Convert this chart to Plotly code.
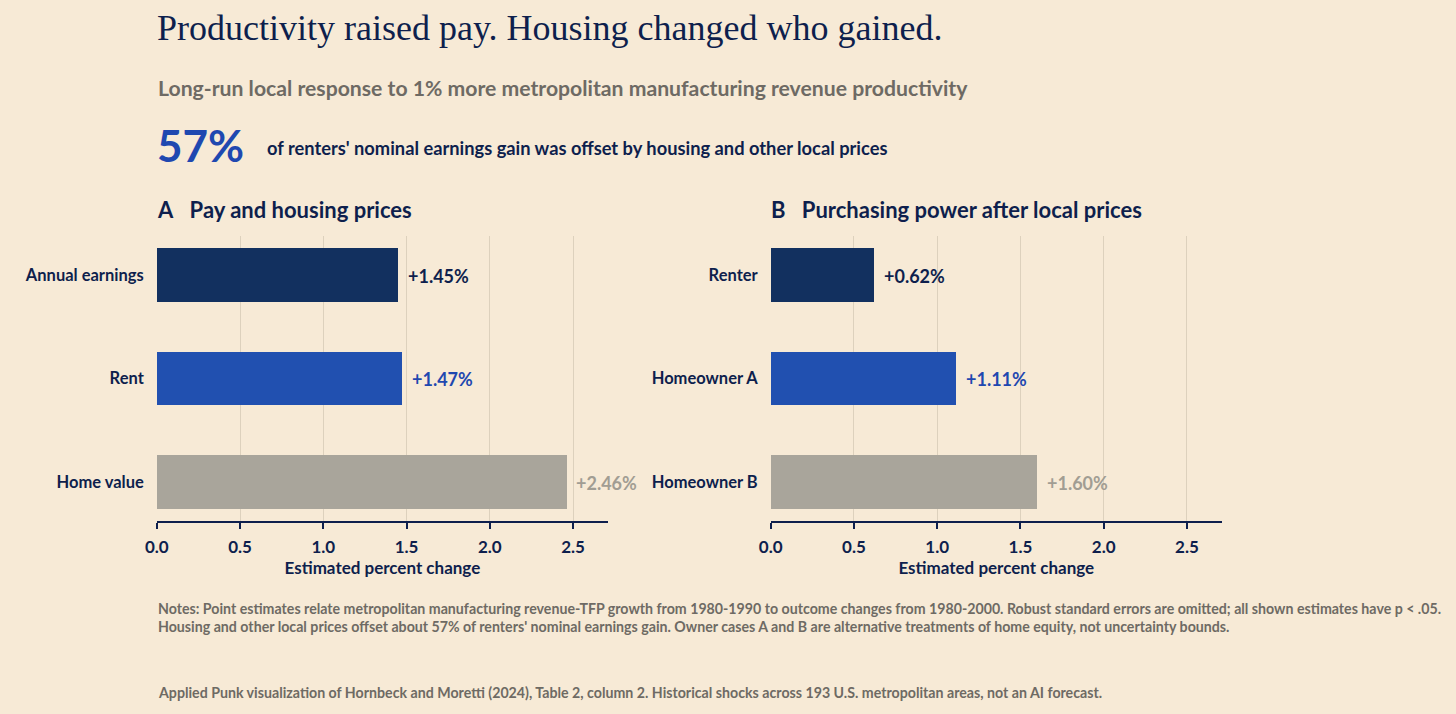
import plotly.graph_objects as go

# ---- data ----
pay_categories = ["Annual earnings", "Rent", "Home value"]
pay_values = [1.45, 1.47, 2.46]
power_categories = ["Renter", "Homeowner A", "Homeowner B"]
power_values = [0.62, 1.11, 1.60]
x_ticks = [0.0, 0.5, 1.0, 1.5, 2.0, 2.5]
headline_share = "57%"

# ---- style ----
BG = "#f7ead6"
NAVY = "#0e1f4d"
BAR_COLORS = ["#12305f", "#2150b0", "#a9a59b"]
LABEL_COLORS = ["#0e1f4d", "#1f48b0", "#a19d93"]
GRID = "#ddd1bd"
GRAY = "#6e6a64"
SANS = "Lato, 'Open Sans', sans-serif"
SERIF = "'Liberation Serif', 'DejaVu Serif', serif"

W, H = 1456, 714


def px_x(p):
    return p / W


def px_y(p):
    return 1 - p / H


fig = go.Figure()

fig.add_trace(go.Bar(
    x=pay_values, y=pay_categories, orientation="h",
    marker=dict(color=BAR_COLORS, line=dict(width=0)),
    width=0.52, xaxis="x", yaxis="y", hoverinfo="skip",
))
fig.add_trace(go.Bar(
    x=power_values, y=power_categories, orientation="h",
    marker=dict(color=BAR_COLORS, line=dict(width=0)),
    width=0.52, xaxis="x2", yaxis="y2", hoverinfo="skip",
))

annotations = []
for cats, vals, xr, yr in [(pay_categories, pay_values, "x", "y"),
                           (power_categories, power_values, "x2", "y2")]:
    for i, (c, v) in enumerate(zip(cats, vals)):
        annotations.append(dict(
            x=v, y=c, xref=xr, yref=yr, text=f"+{v:.2f}%",
            showarrow=False, xanchor="left", yanchor="middle", xshift=8, yshift=-1,
            font=dict(family=SANS, size=18, color=LABEL_COLORS[i], weight=700),
        ))


def txt(x, y, text, size, color, family=SANS, weight=700):
    annotations.append(dict(
        x=px_x(x), y=px_y(y), xref="paper", yref="paper", text=text,
        showarrow=False, xanchor="left", yanchor="middle",
        font=dict(family=family, size=size, color=color, weight=weight),
    ))


txt(144, 28, "Productivity raised pay. Housing changed who gained.", 36, NAVY, SERIF, 400)
txt(145, 88, "Long-run local response to 1% more metropolitan manufacturing revenue productivity", 21.2, GRAY)
txt(144, 145, headline_share, 44, "#1f48b0")
txt(255, 148, "of renters' nominal earnings gain was offset by housing and other local prices", 18.3, NAVY)
txt(144, 209, "A\u2002 Pay and housing prices", 22, NAVY)
txt(763, 209, "B\u2002 Purchasing power after local prices", 22, NAVY)
txt(145, 608, "Notes: Point estimates relate metropolitan manufacturing revenue-TFP growth from 1980-1990 to outcome changes from 1980-2000. Robust standard errors are omitted; all shown estimates have p < .05.", 14.2, GRAY)
txt(145, 626, "Housing and other local prices offset about 57% of renters' nominal earnings gain. Owner cases A and B are alternative treatments of home equity, not uncertainty bounds.", 14.2, GRAY)
txt(145, 692, "Applied Punk visualization of Hornbeck and Moretti (2024), Table 2, column 2. Historical shocks across 193 U.S. metropolitan areas, not an AI forecast.", 14.2, GRAY)

xaxis_common = dict(
    range=[0, 2.71], tickvals=x_ticks, ticktext=[f"{t:.1f}" for t in x_ticks],
    showgrid=True, gridcolor=GRID, gridwidth=1, zeroline=False,
    showline=True, linecolor=NAVY, linewidth=1.5,
    ticks="outside", ticklen=6, tickwidth=1.5, tickcolor=NAVY,
    ticklabelstandoff=4,
    tickfont=dict(family=SANS, size=17, color=NAVY, weight=700),
    title=dict(text="Estimated percent change", standoff=3,
               font=dict(family=SANS, size=17, color=NAVY, weight=700)),
    fixedrange=True,
)
yaxis_common = dict(
    type="category", range=[2.38, -0.38], showgrid=False, zeroline=False,
    showline=False, ticks="", ticklabelstandoff=12,
    tickfont=dict(family=SANS, size=16.5, color=NAVY, weight=700),
    domain=[px_y(521), px_y(236)], fixedrange=True,
)

fig.update_layout(
    width=W, height=H, autosize=False,
    paper_bgcolor=BG, plot_bgcolor=BG,
    margin=dict(l=0, r=0, t=0, b=0),
    showlegend=False,
    bargap=0,
    xaxis=dict(domain=[px_x(146), px_x(601)], anchor="y", **xaxis_common),
    xaxis2=dict(domain=[px_x(765), px_x(1220)], anchor="y2", **xaxis_common),
    yaxis=dict(anchor="x", categoryarray=pay_categories, **yaxis_common),
    yaxis2=dict(anchor="x2", categoryarray=power_categories, **yaxis_common),
    annotations=annotations,
)

fig.write_html(
    "out.html",
    config={"responsive": False, "displayModeBar": False},
    post_script=(
        "document.body.style.margin='0';"
        "document.body.style.overflow='hidden';"
        "document.documentElement.style.overflow='hidden';"
        "document.body.style.background='" + BG + "';"
    ),
)
